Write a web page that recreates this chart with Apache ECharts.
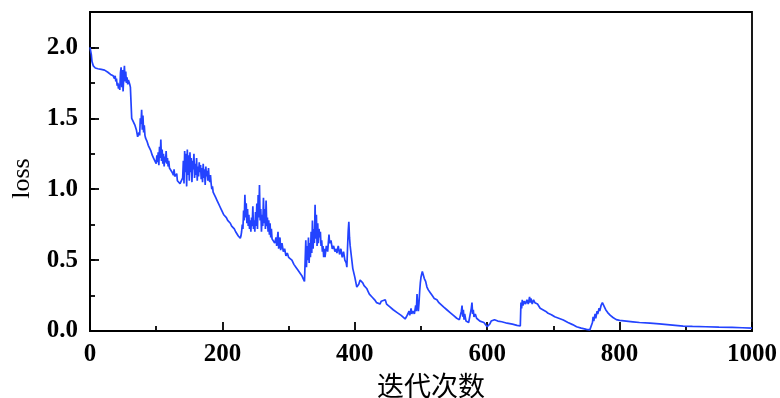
<!DOCTYPE html>
<html>
<head>
<meta charset="utf-8">
<script src="https://cdn.jsdelivr.net/npm/echarts@6/dist/echarts.min.js"></script>
<style>
html,body{margin:0;padding:0;background:#fff;}
#chart{width:780px;height:398px;}
</style>
</head>
<body>
<div id="chart"></div>
<script>
// [iteration, loss]
const lossCurve = [
[0,2.00],[1,1.99],[2,1.95],[3,1.90],[5,1.87],[8,1.855],[12,1.85],[17,1.845],[22,1.84],[27,1.825],[31,1.81],[35,1.80],
[37,1.78],[38,1.80],[39,1.76],[40,1.78],[41,1.73],[42,1.75],[43,1.71],[44,1.74],[45,1.70],[46,1.82],[47,1.86],[48,1.72],[49,1.84],[50,1.69],[51,1.80],[52,1.87],[53,1.76],[54,1.83],[55,1.75],[56,1.79],[57,1.74],[58,1.77],[59,1.76],[60,1.74],[61,1.72],
[63,1.50],[65,1.48],[68,1.45],[70,1.42],[72,1.37],[73,1.36],[74,1.40],[75,1.38],[76,1.50],[77,1.46],[78,1.56],[79,1.42],[80,1.52],[81,1.40],[82,1.45],[83,1.38],[84,1.36],[86,1.34],[88,1.31],[90,1.29],[92,1.27],[94,1.24],[96,1.22],[98,1.20],
[100,1.18],[101,1.24],[102,1.19],[103,1.26],[104,1.17],[105,1.30],[106,1.22],[107,1.35],[108,1.20],[109,1.28],[110,1.18],[111,1.25],[112,1.16],[113,1.23],[114,1.19],[115,1.27],[116,1.18],[117,1.22],[118,1.16],[119,1.20],[120,1.15],
[122,1.14],[124,1.12],[126,1.10],[127,1.14],[128,1.09],[130,1.08],[131,1.11],[132,1.06],[134,1.05],[136,1.04],[138,1.03],
[140,1.08],[141,1.20],[142,1.04],[143,1.27],[144,1.12],[145,1.25],[146,1.02],[147,1.28],[148,1.10],[149,1.24],[150,1.06],[151,1.26],[152,1.12],[153,1.22],[154,1.05],[155,1.20],[156,1.14],[157,1.25],[158,1.08],[159,1.18],[160,1.10],[161,1.22],[162,1.06],[163,1.16],[164,1.09],[165,1.19],[166,1.12],[167,1.17],[168,1.07],[169,1.15],[170,1.05],[171,1.18],[172,1.08],[173,1.14],[174,1.03],[175,1.16],[176,1.09],[177,1.13],[178,1.06],[179,1.15],[180,1.07],[181,1.05],[182,1.10],[183,1.04],[184,1.00],[185,1.02],[186,0.98],[188,0.96],[190,0.94],[192,0.92],[194,0.90],[196,0.88],[198,0.86],[200,0.84],
[202,0.82],[204,0.81],[206,0.80],[208,0.78],[210,0.77],[212,0.76],[214,0.74],[216,0.73],[218,0.72],[220,0.70],[222,0.69],[224,0.67],[226,0.66],[227,0.655],[228,0.67],
[229,0.70],[230,0.75],[231,0.72],[232,0.85],[233,0.78],[234,0.96],[235,0.80],[236,0.90],[237,0.76],[238,0.86],[239,0.74],[240,0.82],[241,0.72],[242,0.78],[243,0.70],[244,0.80],[245,0.74],[246,0.88],[247,0.72],[248,0.78],[249,0.70],[250,0.84],[251,0.74],[252,0.90],[253,0.72],[254,0.96],[255,0.80],[256,1.03],[257,0.78],[258,0.86],[259,0.70],[260,0.82],[261,0.74],[262,0.94],[263,0.76],[264,0.86],[265,0.72],[266,0.92],[267,0.74],[268,0.80],[269,0.70],[270,0.78],[271,0.68],[272,0.76],[273,0.66],[274,0.72],[275,0.65],
[277,0.64],[279,0.62],[281,0.66],[282,0.60],[284,0.70],[285,0.58],[287,0.66],[288,0.57],[290,0.62],[292,0.56],[294,0.58],[296,0.53],[298,0.55],[300,0.52],[302,0.51],[305,0.50],[308,0.47],[311,0.45],[314,0.43],[317,0.42],[320,0.39],[322,0.37],[324,0.35],[325,0.34],
[326,0.64],[327,0.45],[328,0.60],[329,0.50],[330,0.66],[331,0.48],[332,0.62],[333,0.52],[334,0.70],[335,0.55],[336,0.78],[337,0.58],[338,0.72],[339,0.62],[340,0.89],[341,0.65],[342,0.82],[343,0.60],[344,0.76],[345,0.62],[346,0.72],[347,0.66],[348,0.70],[349,0.60],[350,0.64],[351,0.56],[352,0.60],[353,0.52],[354,0.58],[355,0.52],
[357,0.60],[359,0.56],[361,0.68],[362,0.62],[364,0.64],[366,0.58],[368,0.60],[370,0.56],[372,0.58],[373,0.55],[375,0.60],[377,0.54],[379,0.58],[381,0.52],[383,0.56],[385,0.50],[387,0.48],[388,0.45],[389,0.58],[390,0.70],[391,0.77],[392,0.66],[393,0.60],[395,0.52],[397,0.44],[400,0.38],[403,0.31],
[406,0.33],[408,0.36],[410,0.37],[412,0.34],[414,0.32],[416,0.33],[418,0.30],[420,0.28],[422,0.26],[424,0.27],[426,0.24],[428,0.23],[430,0.22],[433,0.20],[436,0.21],[438,0.19],[440,0.21],[443,0.20],[446,0.22],[448,0.19],[450,0.18],[453,0.17],[456,0.16],[458,0.15],[461,0.14],[464,0.13],[467,0.12],[470,0.11],[473,0.10],[476,0.085],
[478,0.10],[480,0.09],[482,0.14],[483,0.11],[485,0.16],[486,0.12],[488,0.14],[490,0.12],[492,0.18],[493,0.14],[494,0.26],[495,0.18],[496,0.14],[497,0.20],[498,0.28],[499,0.34],[500,0.38],[501,0.40],[502,0.42],[503,0.41],[505,0.37],[507,0.35],[509,0.31],[511,0.29],[514,0.27],[517,0.25],[520,0.23],[524,0.22],[527,0.20],[530,0.19],[534,0.17],[539,0.15],[544,0.13],[549,0.11],[554,0.09],[558,0.08],
[560,0.09],[561,0.14],[562,0.18],[563,0.10],[564,0.15],[565,0.08],[566,0.12],[568,0.07],[570,0.08],[572,0.06],[574,0.07],[576,0.16],[577,0.20],[578,0.12],[579,0.15],[580,0.10],[582,0.12],[584,0.09],[586,0.10],[589,0.07],[592,0.08],[595,0.06],[598,0.05],[600,0.03],[602,0.02],[604,0.05],[606,0.07],[608,0.08],[611,0.08],[616,0.07],[622,0.065],[630,0.055],[638,0.048],[645,0.04],[650,0.035],
[651,0.20],[652,0.16],[653,0.22],[654,0.18],[656,0.21],[658,0.19],[660,0.22],[662,0.19],[664,0.24],[665,0.20],[666,0.23],[668,0.19],[670,0.22],[672,0.20],[674,0.21],[676,0.19],[678,0.18],[680,0.16],[684,0.15],[688,0.14],[692,0.125],[697,0.115],[702,0.10],[708,0.09],[715,0.077],[722,0.06],[729,0.045],[735,0.03],[742,0.02],[750,0.012],[755,0.008],[757,0.01],
[759,0.06],[760,0.10],[761,0.07],[763,0.12],[764,0.09],[766,0.14],[767,0.12],[769,0.16],[770,0.14],[772,0.18],[774,0.20],[775,0.19],[777,0.17],[779,0.15],[782,0.13],[786,0.11],[790,0.095],[795,0.08],[800,0.075],[810,0.07],[820,0.065],[830,0.06],[846,0.055],[860,0.05],[880,0.042],[896,0.035],[910,0.032],[930,0.03],[950,0.027],[970,0.025],[985,0.023],[1000,0.02]
];
const xTicks = [0, 200, 400, 600, 800, 1000];
const yTicks = [0.0, 0.5, 1.0, 1.5, 2.0];
const xName = '迭代次数';
const yName = 'loss';

const serif = '"Liberation Serif","Times New Roman",serif';
const chart = echarts.init(document.getElementById('chart'), null, {renderer: 'canvas'});
chart.setOption({
  animation: false,
  backgroundColor: '#fff',
  grid: {left: 90, right: 28, top: 12, bottom: 67, containLabel: false, outerBoundsMode: 'none',
    show: true, borderColor: '#000', borderWidth: 1.8, backgroundColor: 'transparent'},
  xAxis: {
    type: 'value', min: xTicks[0], max: xTicks[xTicks.length - 1], interval: xTicks[1] - xTicks[0],
    name: xName, nameLocation: 'middle', nameGap: 37,
    nameTextStyle: {fontFamily: '"Noto Sans CJK SC",sans-serif', fontSize: 27, color: '#000', padding: [0, 0, 0, 20]},
    axisLine: {show: true, lineStyle: {color: '#000', width: 1.8}},
    axisTick: {show: true, inside: true, length: 9, lineStyle: {color: '#000', width: 1.8}},
    minorTick: {show: true, splitNumber: 2, length: 5, lineStyle: {color: '#000', width: 1.8}},
    splitLine: {show: false},
    axisLabel: {fontFamily: serif, fontWeight: 'bold', fontSize: 25, color: '#000', margin: 11,
      formatter: function (v) { return String(Math.round(v)); }}
  },
  yAxis: [{
    type: 'value', min: 0, max: 2.25, interval: 0.25,
    name: yName, nameLocation: 'middle', nameGap: 55, nameRotate: 90,
    nameTextStyle: {fontFamily: serif, fontSize: 26, color: '#000', padding: [0, 14, 0, 0]},
    axisLine: {show: true, lineStyle: {color: '#000', width: 1.8}},
    axisTick: {show: true, inside: true, length: 5, lineStyle: {color: '#000', width: 1.8}},
    splitLine: {show: false},
    axisLabel: {
      fontFamily: serif, fontWeight: 'bold', fontSize: 25, color: '#000', margin: 12,
      formatter: function (v) {
        const hit = yTicks.find(t => Math.abs(t - v) < 1e-6);
        return hit === undefined ? '' : hit.toFixed(1);
      }
    }
  }, {
    type: 'value', min: 0, max: 2.25, interval: 0.5, position: 'left',
    axisLine: {show: false},
    axisTick: {show: true, inside: true, length: 9, lineStyle: {color: '#000', width: 1.8}},
    axisLabel: {show: false},
    splitLine: {show: false}
  }],
  series: [{
    type: 'line', data: lossCurve, yAxisIndex: 0, showSymbol: false, symbol: 'none',
    lineStyle: {color: '#2343ff', width: 1.7}, silent: true
  }]
});
</script>
</body>
</html>
